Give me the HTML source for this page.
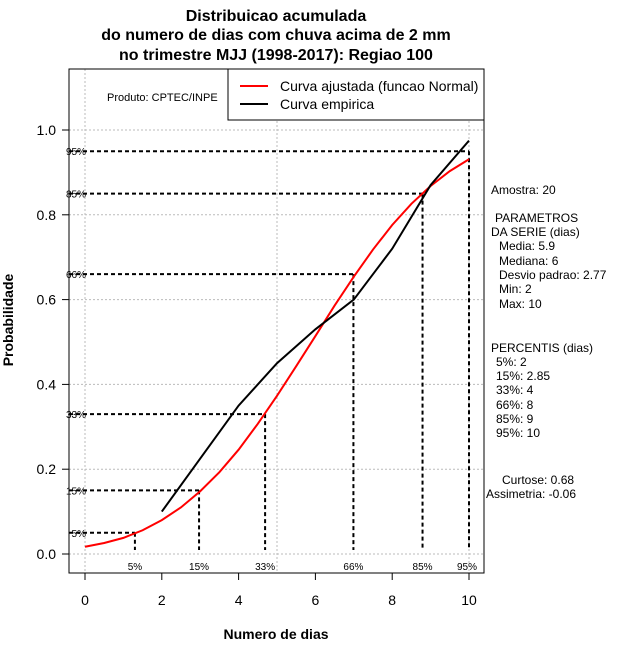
<!DOCTYPE html>
<html><head><meta charset="utf-8"><style>
body{margin:0;background:#fff}
svg{display:block;font-family:"Liberation Sans",sans-serif}
</style></head><body>
<svg id="c" width="640" height="660" viewBox="0 0 640 660">
<g font-weight="bold" font-size="16" text-anchor="middle">
<text x="276" y="21">Distribuicao acumulada</text>
<text x="276" y="40">do numero de dias com chuva acima de 2 mm</text>
<text x="276" y="60">no trimestre MJJ (1998-2017): Regiao 100</text>
</g>
<text x="13" y="320" font-size="14" font-weight="bold" text-anchor="middle" transform="rotate(-90 13 320)">Probabilidade</text>
<text x="276" y="639" font-size="14" font-weight="bold" text-anchor="middle">Numero de dias</text>
<g id="grid"></g>
<g id="ref"></g>
<g id="series"></g>
<rect x="69" y="69" width="415" height="504" fill="none" stroke="#000" stroke-width="1"/>
<g id="axes"></g>
<g>
<rect x="228" y="69" width="256" height="51" fill="#fff" stroke="#000"/>
<line x1="240" y1="86" x2="268" y2="86" stroke="#f00" stroke-width="2"/>
<text x="280" y="91" font-size="14">Curva ajustada (funcao Normal)</text>
<line x1="240" y1="104" x2="268" y2="104" stroke="#000" stroke-width="2"/>
<text x="280" y="109" font-size="14">Curva empirica</text>
</g>
<text x="107" y="101" font-size="11">Produto: CPTEC/INPE</text>
<g font-size="12">
<text x="491" y="194">Amostra: 20</text>
<text x="495" y="222">PARAMETROS</text>
<text x="491" y="236">DA SERIE (dias)</text>
<text x="499" y="250">Media: 5.9</text>
<text x="499" y="265">Mediana: 6</text>
<text x="499" y="279">Desvio padrao: 2.77</text>
<text x="499" y="293">Min: 2</text>
<text x="499" y="308">Max: 10</text>
<text x="491" y="352">PERCENTIS (dias)</text>
<text x="496" y="366">5%: 2</text>
<text x="496" y="380">15%: 2.85</text>
<text x="496" y="394">33%: 4</text>
<text x="496" y="409">66%: 8</text>
<text x="496" y="423">85%: 9</text>
<text x="496" y="437">95%: 10</text>
<text x="502" y="484">Curtose: 0.68</text>
<text x="486" y="498">Assimetria: -0.06</text>
</g>
</svg>
<script>
const fitX=[0,0.5,1,1.5,2,2.5,3,3.5,4,4.5,5,5.5,6,6.5,7,7.5,8,8.5,9,9.5,10];
const fitP=[0.017,0.026,0.038,0.056,0.080,0.110,0.148,0.193,0.246,0.307,0.373,0.443,0.514,0.586,0.654,0.718,0.776,0.826,0.868,0.903,0.931];
const empX=[2,3,4,5,6,7,8,9,10];
const empP=[0.10,0.225,0.35,0.45,0.53,0.60,0.72,0.87,0.975];
const pctLabels=['5%','15%','33%','66%','85%','95%'];
const pctP=[0.05,0.15,0.33,0.66,0.85,0.95];
const pctX=[1.3,2.97,4.69,6.99,8.79,10];
const xTicks=[0,2,4,6,8,10];
const yTicks=[0,0.2,0.4,0.6,0.8,1.0];
const yTickLabels=['0.0','0.2','0.4','0.6','0.8','1.0'];
const xGrid=[0,5,10];

const NS='http://www.w3.org/2000/svg';
const sx=v=>85+v*38.4, sy=v=>554-v*424;
function mk(p,t,a){const e=document.createElementNS(NS,t);for(const k in a)e.setAttribute(k,a[k]);document.getElementById(p).appendChild(e);return e;}
xGrid.forEach(v=>{const e=mk('grid','line',{x1:sx(v),x2:sx(v),y1:69,y2:573,stroke:'#bbb','stroke-dasharray':'2,2'});

});
yTicks.forEach(v=>{const e=mk('grid','line',{x1:69,x2:484,y1:sy(v),y2:sy(v),stroke:'#bbb','stroke-dasharray':'2,2'});

});
pctP.forEach((p,i)=>{
const h=mk('ref','line',{x1:69,x2:sx(pctX[i]),y1:sy(p),y2:sy(p),stroke:'#000','stroke-width':2,'stroke-dasharray':'4,3'});


const v=mk('ref','line',{x1:sx(pctX[i]),x2:sx(pctX[i]),y1:sy(p),y2:550,stroke:'#000','stroke-width':2,'stroke-dasharray':'4,3'});


const t=mk('ref','text',{x:86,y:sy(p)+4,'font-size':10,'text-anchor':'end'});t.textContent=pctLabels[i];


const b=mk('ref','text',{x:sx(pctX[i])-(i==5?2:0),y:570,'font-size':10,'text-anchor':'middle'});b.textContent=pctLabels[i];


});
const red=mk('series','polyline',{points:fitX.map((x,i)=>sx(x)+','+sy(fitP[i])).join(' '),fill:'none',stroke:'#f00','stroke-width':2});


const blk=mk('series','polyline',{points:empX.map((x,i)=>sx(x)+','+sy(empP[i])).join(' '),fill:'none',stroke:'#000','stroke-width':2});


xTicks.forEach(v=>{const l=mk('axes','line',{x1:sx(v),x2:sx(v),y1:573,y2:580,stroke:'#000'});


const t=mk('axes','text',{x:sx(v),y:605,'font-size':14,'text-anchor':'middle'});t.textContent=v;

});
yTicks.forEach((v,i)=>{const l=mk('axes','line',{x1:62,x2:69,y1:sy(v),y2:sy(v),stroke:'#000'});


const t=mk('axes','text',{x:56,y:sy(v)+5,'font-size':14,'text-anchor':'end'});t.textContent=yTickLabels[i];

});
</script>
</body></html>
